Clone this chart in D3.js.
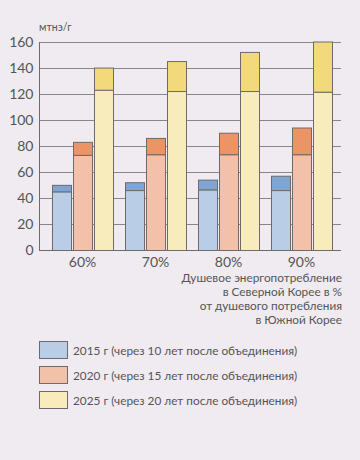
<!DOCTYPE html>
<html><head><meta charset="utf-8">
<script src="https://cdn.jsdelivr.net/npm/d3@7"></script>
<style>
html,body{margin:0;padding:0;background:#efebf1;}
svg{display:block;font-family:Lato,"Noto Sans",sans-serif;}
</style></head>
<body><svg id="c" width="360" height="460"></svg>
<script>
const categories = ["60%", "70%", "80%", "90%"];
const seriesNames = ["2015 г (через 10 лет после объединения)", "2020 г (через 15 лет после объединения)", "2025 г (через 20 лет после объединения)"];
const base2015 = [45, 46, 46.5, 46];
const total2015 = [50, 52, 54, 57];
const base2020 = [73, 73.5, 73.5, 73.5];
const total2020 = [83, 86, 90, 94];
const base2025 = [123, 122, 122, 121.5];
const total2025 = [140, 145, 152, 160];
const yTicks = [0, 20, 40, 60, 80, 100, 120, 140, 160];
const unitLabel = "мтнэ/г";
const xTitle = ["Душевое энергопотребление", "в Северной Корее в %", "от душевого потребления", "в Южной Корее"];

const lightColors = ["#b9cde7", "#f3c0aa", "#f8ebbc"];
const darkColors = ["#80a5d2", "#ec9466", "#f2da7c"];
const strokeCol = "#6e6a6a";
const FONT = "Lato, 'Noto Sans', sans-serif";

const svg = d3.select("#c");
const y = d3.scaleLinear().domain([0, 160]).range([250.5, 42]);
const x = d3.scaleBand().domain(categories).range([52, 332]).paddingInner(0.164).paddingOuter(0);
const xi = d3.scaleBand().domain([0,1,2]).range([0, x.bandwidth()]).paddingInner(0.1);

// grid
svg.append("g").selectAll("line").data(yTicks.filter(d=>d>0)).join("line")
  .attr("x1", 39).attr("x2", 341)
  .attr("y1", d=>Math.round(y(d))+0.5).attr("y2", d=>Math.round(y(d))+0.5)
  .attr("stroke", "#8a8688").attr("stroke-width", 1);

// y axis
const yAxis = d3.axisLeft(y).tickValues(yTicks).tickSize(0).tickPadding(6);
const ya = svg.append("g").attr("transform","translate(39.5,0)").call(yAxis);
ya.select(".domain").remove();
ya.selectAll("text").attr("font-size", 14).attr("fill", "#555").attr("font-family", FONT);
svg.append("line").attr("x1",39.5).attr("x2",39.5).attr("y1",42).attr("y2",251).attr("stroke",strokeCol);
svg.append("line").attr("x1",39).attr("x2",341).attr("y1",250.5).attr("y2",250.5).attr("stroke",strokeCol);

svg.append("text").attr("x", 39).attr("y", 31).attr("font-size", 10.5).attr("fill","#555").attr("font-family", FONT).text(unitLabel);

const bases = [base2015, base2020, base2025];
const totals = [total2015, total2020, total2025];

categories.forEach((c, ci) => {
  for (let s = 0; s < 3; s++) {
    const x0 = Math.round(x(c) + xi(s)) + 0.5;
    const w = Math.round(xi.bandwidth());
    const b = bases[s][ci], t = totals[s][ci];
    svg.append("rect").attr("x", x0).attr("width", w)
      .attr("y", y(b)).attr("height", y(0) - y(b))
      .attr("fill", lightColors[s]).attr("stroke", strokeCol);
    svg.append("rect").attr("x", x0).attr("width", w)
      .attr("y", y(t)).attr("height", y(b) - y(t))
      .attr("fill", darkColors[s]).attr("stroke", strokeCol);
  }
});

// x labels
const xAxis = d3.axisBottom(x).tickSize(0).tickPadding(7);
const xa = svg.append("g").attr("transform","translate(0,250.5)").call(xAxis);
xa.select(".domain").remove();
xa.selectAll("text").attr("font-size", 14).attr("fill","#555").attr("font-family", FONT);

svg.append("g").selectAll("text").data(xTitle).join("text")
  .attr("x", 342).attr("y", (d,i)=>282 + i*14)
  .attr("text-anchor","end").attr("font-size", 11.8).attr("fill","#555").attr("font-family", FONT).text(d=>d);

// legend
const lg = svg.append("g");
seriesNames.forEach((n, i) => {
  const yy = 341 + i*25;
  lg.append("rect").attr("x", 39.5).attr("y", yy+0.5).attr("width", 28).attr("height", 17)
    .attr("fill", lightColors[i]).attr("stroke", strokeCol);
  lg.append("text").attr("x", 73).attr("y", yy+13.5).attr("font-size", 11.8).attr("fill","#555").attr("font-family", FONT).text(n);
});
</script></body></html>
